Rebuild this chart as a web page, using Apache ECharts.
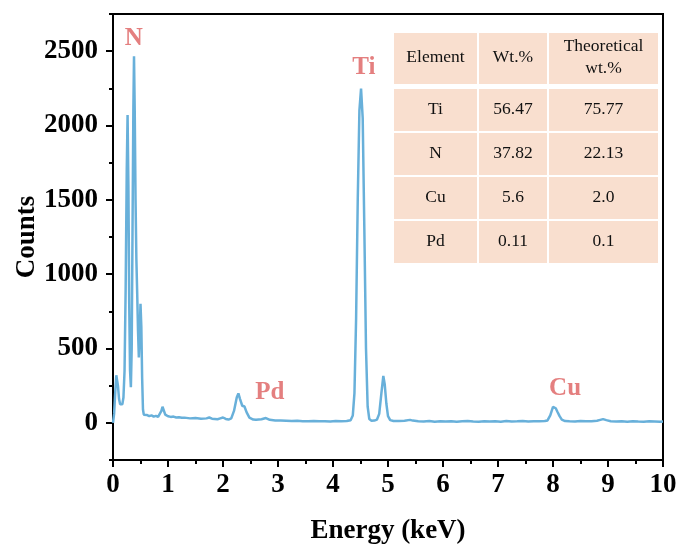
<!DOCTYPE html>
<html>
<head>
<meta charset="utf-8">
<script src="https://cdn.jsdelivr.net/npm/echarts@6/dist/echarts.min.js"></script>
<style>
  html, body { margin: 0; padding: 0; background: #fff; }
  #chart { width: 678px; height: 544px; }
</style>
</head>
<body>
<div id="chart"></div>
<script>
// EDS spectrum: energy (keV) and counts
const energy = [
  0.00, 0.02, 0.04, 0.06, 0.07, 0.09, 0.11, 0.13, 0.15, 0.17, 0.19, 0.21, 0.23, 0.25, 0.265,
  0.28, 0.295, 0.31, 0.325, 0.34, 0.355, 0.37, 0.382, 0.395, 0.41, 0.425, 0.44, 0.455, 0.47,
  0.485, 0.50, 0.515, 0.53, 0.545, 0.56, 0.58, 0.62, 0.66, 0.70, 0.74, 0.78, 0.82, 0.85, 0.88,
  0.90, 0.92, 0.95, 1.00, 1.05, 1.10, 1.15, 1.20, 1.25, 1.30, 1.40, 1.50, 1.60, 1.70, 1.75,
  1.80, 1.90, 1.95, 2.00, 2.05, 2.10, 2.15, 2.20, 2.25, 2.28, 2.31, 2.35, 2.39, 2.43, 2.48,
  2.55, 2.60, 2.70, 2.78, 2.85, 2.95, 3.05, 3.15, 3.25, 3.35, 3.45, 3.55, 3.65, 3.75, 3.85,
  3.95, 4.05, 4.15, 4.25, 4.32, 4.36, 4.39, 4.42, 4.45, 4.48, 4.51, 4.54, 4.57, 4.60, 4.63,
  4.66, 4.70, 4.75, 4.80, 4.84, 4.88, 4.915, 4.94, 4.97, 5.00, 5.04, 5.10, 5.20, 5.30, 5.40,
  5.45, 5.55, 5.65, 5.75, 5.85, 5.95, 6.05, 6.15, 6.25, 6.35, 6.45, 6.55, 6.65, 6.75, 6.85,
  6.95, 7.05, 7.15, 7.25, 7.35, 7.45, 7.55, 7.65, 7.75, 7.85, 7.90, 7.95, 8.00, 8.02, 8.05,
  8.08, 8.12, 8.16, 8.22, 8.30, 8.40, 8.50, 8.60, 8.70, 8.80, 8.86, 8.91, 8.97, 9.05, 9.15,
  9.25, 9.35, 9.45, 9.55, 9.65, 9.75, 9.85, 9.95, 10.0
]
const counts = [
  0, 60, 200, 320, 331, 250, 160, 125, 112, 125, 170, 350, 900, 1700, 2070,
  1600, 800, 350, 240, 500, 1300, 2100, 2465, 2100, 1500, 1100, 870, 620, 440,
  600, 800, 650, 300, 90, 55, 48, 52, 45, 50, 42, 47, 40, 48, 80,
  108, 95, 55, 44, 40, 42, 36, 38, 34, 35, 30, 32, 28, 30, 36,
  28, 24, 30, 36, 26, 22, 30, 80, 170, 198, 160, 115, 110, 70, 35,
  22, 20, 24, 32, 20, 16, 15, 14, 12, 14, 11, 10, 12, 10, 11,
  9, 12, 10, 12, 18, 50, 200, 700, 1500, 2100, 2248, 2050, 1300, 500, 110,
  25, 14, 15, 22, 60, 200, 315, 260, 130, 45, 18, 12, 12, 14, 20,
  15, 11, 9, 12, 8, 10, 9, 11, 8, 10, 12, 9, 8, 11, 9,
  10, 8, 12, 9, 10, 13, 9, 11, 10, 12, 16, 50, 108, 119, 98,
  75, 45, 22, 12, 10, 9, 12, 10, 11, 14, 20, 25, 18, 11, 9,
  10, 8, 11, 9, 8, 10, 9, 8, 9
]

// element labels over the peaks (energy, counts where the label sits)
const peakNames = ['N', 'Ti', 'Pd', 'Cu']
const peakEnergy = [0.38, 4.56, 2.85, 8.22]
const peakCounts = [2585, 2390, 205, 232]

const yTicks = [0, 500, 1000, 1500, 2000, 2500]

// composition table
const tableHead = ['Element', 'Wt.%', 'Theoretical\nwt.%']
const tableRows = [
  ['Ti', '56.47', '75.77'],
  ['N', '37.82', '22.13'],
  ['Cu', '5.6', '2.0'],
  ['Pd', '0.11', '0.1']
]

const serif = "'Liberation Serif', 'Times New Roman', serif"
const black = {color: '#000', width: 2}

function buildTable () {
  let colX = [394, 479, 549]
  let colW = [83, 68, 109]
  let items = []
  let rowsAll = [tableHead].concat(tableRows)
  let y = 33
  rowsAll.forEach((row, r) => {
    let h = r === 0 ? 51 : 42
    row.forEach((txt, c) => {
      items.push({
        type: 'rect',
        shape: {x: colX[c], y: y, width: colW[c], height: h},
        style: {fill: '#f9dfcf'},
        z: 10
      })
      items.push({
        type: 'text',
        x: colX[c] + colW[c] / 2,
        y: y + h / 2 - 1,
        style: {
          text: txt,
          align: 'center',
          verticalAlign: 'middle',
          font: '17.5px ' + serif,
          fill: '#111',
          lineHeight: 22
        },
        z: 11
      })
    })
    y += h + (r === 0 ? 5 : 2)
  })
  return items
}

let myChart = echarts.init(document.getElementById('chart'))
myChart.setOption({
  animation: false,
  grid: {
    left: 113, right: 15, top: 14, bottom: 84,
    outerBoundsMode: 'none',
    containLabel: false,
    show: true, borderColor: '#000', borderWidth: 2
  },
  xAxis: {
    type: 'value',
    min: 0, max: 10, interval: 1,
    name: 'Energy (keV)',
    nameLocation: 'middle',
    nameGap: 58,
    nameMoveOverlap: false,
    nameTextStyle: {fontFamily: serif, fontWeight: 'bold', fontSize: 27, color: '#000'},
    axisLine: {onZero: false, lineStyle: black},
    axisTick: {length: 7, lineStyle: black},
    minorTick: {show: true, splitNumber: 2, length: 4, lineStyle: black},
    axisLabel: {fontFamily: serif, fontWeight: 'bold', fontSize: 27, color: '#000', margin: 12},
    splitLine: {show: false}
  },
  yAxis: [{
    type: 'value',
    min: -250, max: 2750, interval: 250,
    name: 'Counts',
    nameLocation: 'middle',
    nameGap: 72,
    nameMoveOverlap: false,
    nameTextStyle: {fontFamily: serif, fontWeight: 'bold', fontSize: 27, color: '#000'},
    axisLine: {show: true, onZero: false, lineStyle: black},
    axisTick: {show: true, length: 7, customValues: yTicks, lineStyle: black},
    axisLabel: {
      customValues: yTicks,
      formatter: (v) => String(v),
      fontFamily: serif, fontWeight: 'bold', fontSize: 27, color: '#000', margin: 15
    },
    splitLine: {show: false}
  }, {
    // minor ticks every 250 counts
    type: 'value',
    position: 'left',
    min: -250, max: 2750, interval: 250,
    axisLine: {show: false, onZero: false},
    axisTick: {show: true, length: 4, lineStyle: black},
    axisLabel: {show: false},
    splitLine: {show: false}
  }],
  series: [{
    type: 'line',
    yAxisIndex: 0,
    data: energy.map((e, i) => [e, counts[i]]),
    showSymbol: false,
    lineStyle: {color: '#68b0da', width: 2.5},
    itemStyle: {color: '#68b0da'},
    markPoint: {
      symbol: 'circle',
      symbolSize: 0,
      label: {
        show: true,
        position: 'inside',
        formatter: (p) => p.name,
        fontFamily: serif,
        fontWeight: 'bold',
        fontSize: 25,
        color: '#e47f7f'
      },
      data: peakNames.map((n, i) => ({name: n, coord: [peakEnergy[i], peakCounts[i]]}))
    }
  }],
  graphic: buildTable()
})
</script>
</body>
</html>
